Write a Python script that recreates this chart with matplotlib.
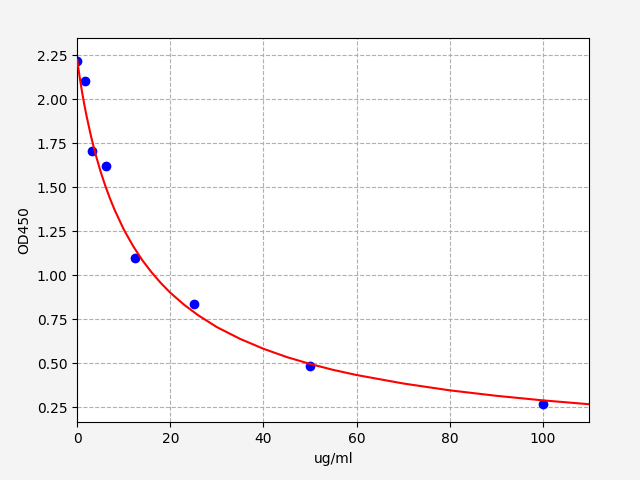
import matplotlib
matplotlib.use("Agg")
import matplotlib.pyplot as plt

# standard points
conc = [0, 1.5625, 3.125, 6.25, 12.5, 25, 50, 100]
od = [2.22, 2.106, 1.709, 1.623, 1.101, 0.839, 0.487, 0.269]

# fitted curve (smoothed by hand)
curve_x = [0, 0.1, 0.25, 0.5, 1, 1.5, 2, 3, 4, 5, 6, 7, 8, 10, 12, 14, 16, 18, 20,
           23, 26, 30, 35, 40, 45, 50, 55, 60, 70, 80, 90, 100, 110]
curve_y = [2.225, 2.203, 2.173, 2.127, 2.045, 1.971, 1.904, 1.784, 1.681, 1.590,
           1.510, 1.438, 1.373, 1.260, 1.166, 1.085, 1.016, 0.955, 0.901, 0.832,
           0.773, 0.706, 0.639, 0.583, 0.536, 0.497, 0.463, 0.434, 0.386, 0.347,
           0.316, 0.290, 0.268]

fig = plt.figure(figsize=(6.4, 4.8), dpi=100, facecolor="#f4f4f4")
ax = fig.add_subplot(111)
fig.subplots_adjust(left=0.1208, right=0.9208, top=0.920, bottom=0.120)

ax.plot(conc, od, "bo", zorder=2)
ax.plot(curve_x, curve_y, color="red", lw=1.5, zorder=3)

ax.set_xlim(0, 110)
ax.set_ylim(0.1648, 2.3466)
ax.set_yticks([0.25, 0.5, 0.75, 1.0, 1.25, 1.5, 1.75, 2.0, 2.25])
ax.grid(True, linestyle="--", color="#b0b0b0", lw=0.8)
ax.set_axisbelow(True)
ax.set_xlabel("ug/ml")
ax.set_ylabel("OD450")

fig.savefig("out.png", dpi=100, facecolor=fig.get_facecolor())
